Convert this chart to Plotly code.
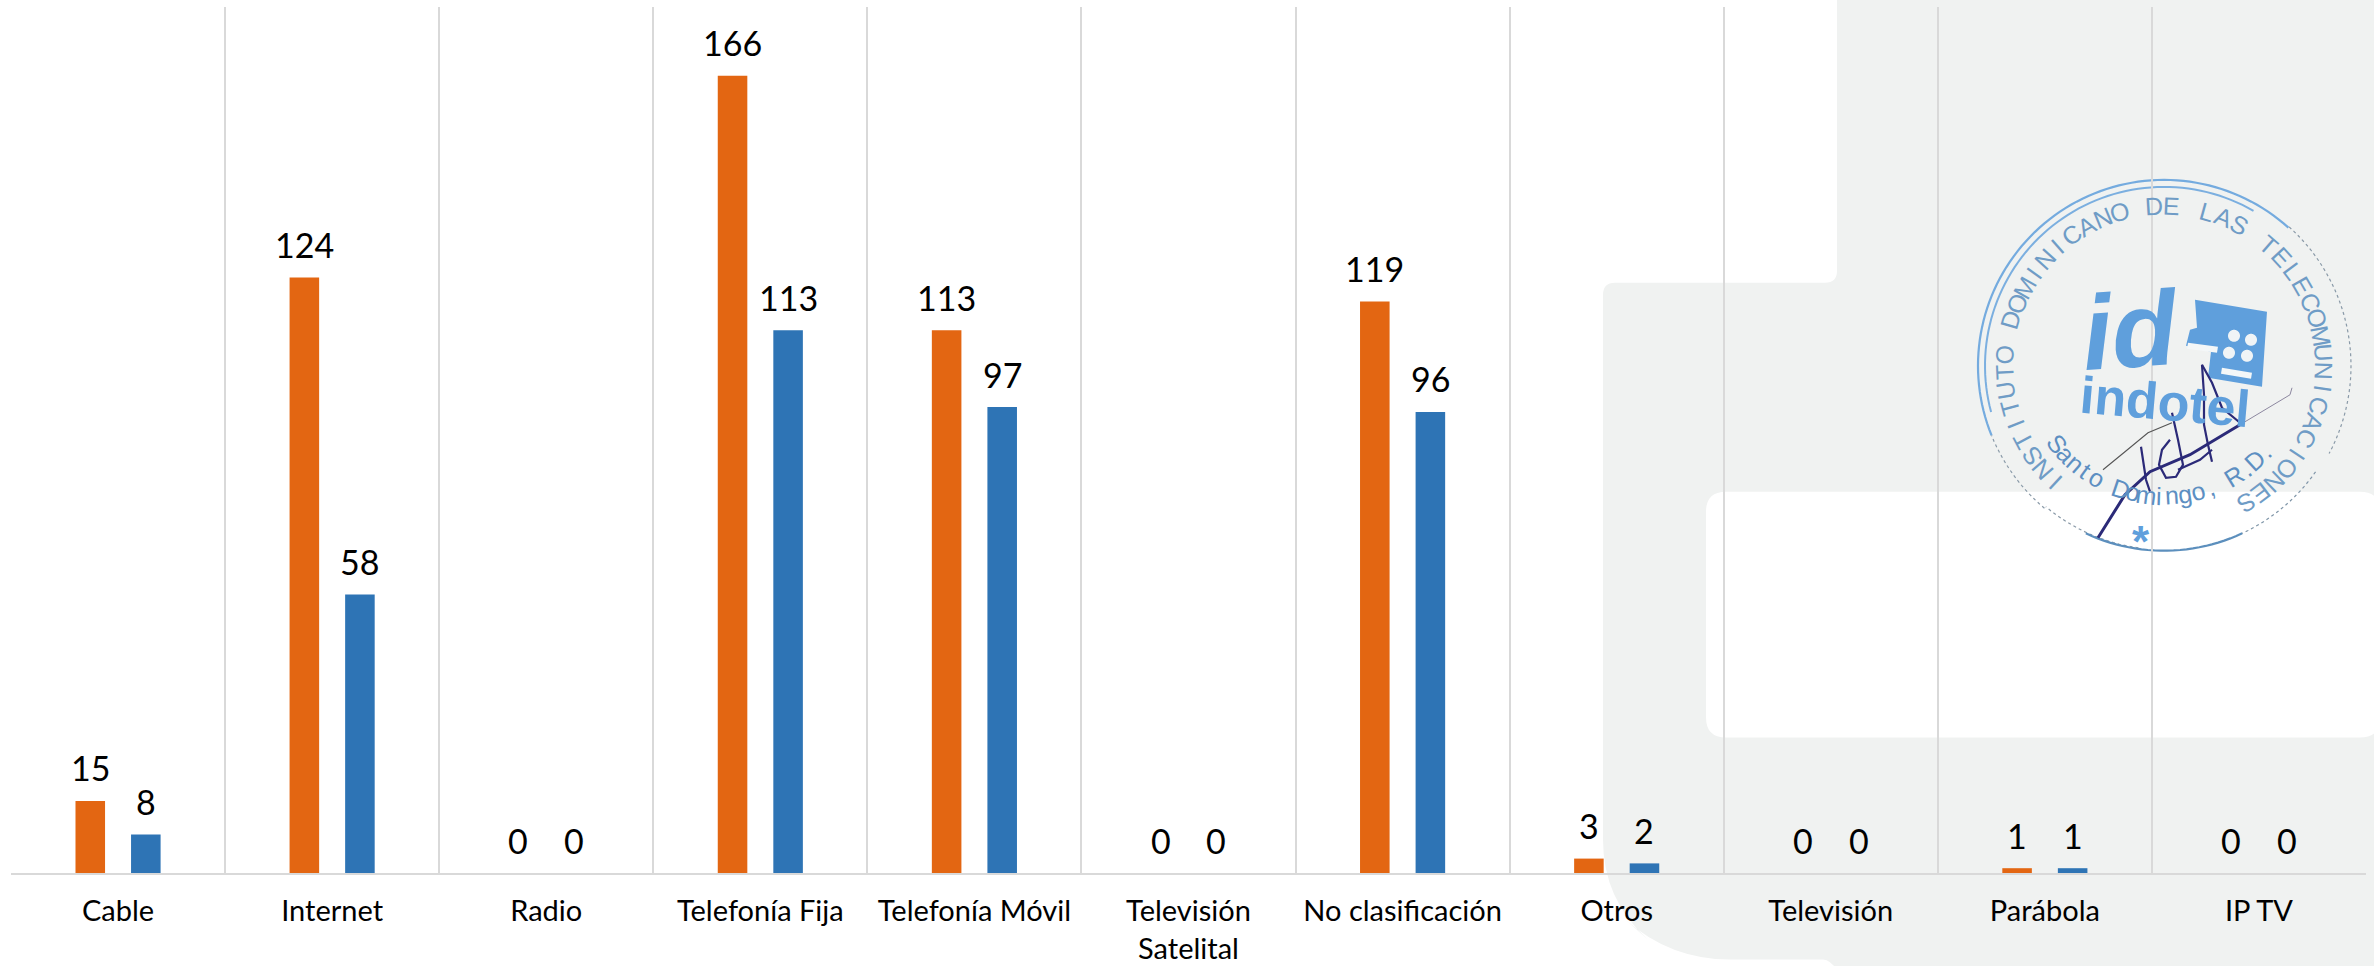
import math
import plotly.graph_objects as go

categories = ["Cable", "Internet", "Radio", "Telefonía Fija", "Telefonía Móvil",
              "Televisión<br>Satelital", "No clasificación", "Otros", "Televisión",
              "Parábola", "IP TV"]
orange_values = [15, 124, 0, 166, 113, 0, 119, 3, 0, 1, 0]
blue_values = [8, 58, 0, 113, 97, 0, 96, 2, 0, 1, 0]

W, H = 2374, 966
L, R, T, B = 11, 2366, 7, 873.5
FONT = "Lato"
ORANGE, BLUE, GRAY = "#e36612", "#2e74b5", "#f0f2f1"
STAMP = "#5f9fdc"
STAMP_TXT = "#6f9cc6"
INK = "#2b2a78"
CX, CY, RAD = 2164, 366, 186


def px(x):
    return (x - L) / (R - L)


def py(y):
    return (B - y) / (B - T)


def path(points, close=False):
    s = "M " + " L ".join(f"{px(x):.5f},{py(y):.5f}" for x, y in points)
    return s + (" Z" if close else "")


def rounded(pts, r=12):
    """polygon with rounded corners"""
    s = ""
    n = len(pts)
    for i in range(n):
        p0, p1, p2 = pts[i - 1], pts[i], pts[(i + 1) % n]
        rr = r if len(p1) == 2 else p1[2]
        d0 = math.dist(p0[:2], p1[:2])
        d2 = math.dist(p2[:2], p1[:2])
        a = (p1[0] + (p0[0] - p1[0]) * rr / d0, p1[1] + (p0[1] - p1[1]) * rr / d0)
        b = (p1[0] + (p2[0] - p1[0]) * rr / d2, p1[1] + (p2[1] - p1[1]) * rr / d2)
        s += ("M " if i == 0 else " L ") + f"{px(a[0]):.5f},{py(a[1]):.5f}"
        s += f" Q {px(p1[0]):.5f},{py(p1[1]):.5f} {px(b[0]):.5f},{py(b[1]):.5f}"
    return s + " Z"


def arc(a0, a1, r=RAD, cx=CX, cy=CY):
    pts = []
    steps = max(4, int(abs(a1 - a0) / 2))
    for i in range(steps + 1):
        a = math.radians(a0 + (a1 - a0) * i / steps)
        pts.append((cx + r * math.sin(a), cy - r * math.cos(a)))
    return pts


shapes = []


def add(points_or_path, color=None, width=1, fill=None, layer="below", dash=None, opacity=1):
    d = points_or_path if isinstance(points_or_path, str) else path(points_or_path)
    line = dict(color=color or "rgba(0,0,0,0)", width=width if color else 0)
    if dash:
        line["dash"] = dash
    sh = dict(type="path", xref="paper", yref="paper", path=d, line=line,
              layer=layer, opacity=opacity)
    if fill:
        sh["fillcolor"] = fill
    shapes.append(sh)


# grey page background with rounded cut-outs
add(rounded([(1837, -10, 1), (2380, -10, 1), (2380, 972, 1), (1840, 972, 1), (1827, 960, 4),
             (1670, 960, 60), (1603, 900, 60), (1603, 283), (1837, 283)]), fill=GRAY)
add(rounded([(1706, 492, 20), (2380, 492, 20), (2380, 738, 20), (1706, 738, 20)]), fill="#ffffff")

# stamp rings
add(arc(-112, 42), STAMP, 2.2, opacity=.85)
add(arc(-105, 30, RAD - 7), STAMP, 2, opacity=.8)
add(arc(42, 118, RAD + 1), "#8a9aa8", 1.2, dash="dot")
add(arc(-140, -112, RAD), "#8a9aa8", 1.2, dash="dot")
add(arc(-172, -140, RAD - 2), "#8a9aa8", 1.2, dash="dot")
add(arc(155, 205, RAD - 1), "#5c8fbd", 2.2)
add(arc(125, 155, RAD - 1), "#7f95a8", 1.2, dash="dot")

# stamp keypad
add(path([(2195, 300), (2267, 312), (2262, 387), (2208, 378), (2211, 352), (2186, 346),
          (2190, 330), (2197, 328)], True), fill=STAMP)
add(path([(2188, 343), (2218, 347), (2217, 353), (2187, 349)], True), fill="#f4f7f8")
add(path([(2222, 368), (2252, 373), (2251, 379), (2221, 374)], True), fill="#f4f7f8")
for kx, ky in [(2234, 336), (2251, 340), (2229, 353), (2247, 356)]:
    add(path(arc(0, 360, 6, kx, ky), True), fill="#f0f4f6")

# signature
add([(2098, 538), (2125, 495), (2150, 472), (2190, 455), (2240, 425)], INK, 3, layer="above")
add([(2240, 425), (2290, 395), (2292, 388)], "#8d88a0", 1, layer="above")
add([(2103, 470), (2125, 452), (2148, 433), (2172, 423)], "#555", 1.1, layer="above")
add([(2172, 413), (2178, 440), (2183, 465), (2176, 477), (2166, 478), (2159, 465), (2162, 450), (2170, 440)],
    INK, 2.2, layer="above")
add([(2141, 447), (2146, 480), (2150, 492)], INK, 2.2, layer="above")
add([(2202, 365), (2204, 395), (2204, 425), (2208, 445), (2212, 462)], INK, 2.2, layer="above")
add([(2202, 365), (2212, 383), (2222, 408), (2240, 423)], INK, 2.2, layer="above")
add([(2178, 470), (2200, 460), (2212, 450)], INK, 2.2, layer="above")

annotations = []


def label(x, y, text, size, color, angle=0, bold=False, italic=False, font="Liberation Sans"):
    t = f"<b>{text}</b>" if bold else text
    t = f"<i>{t}</i>" if italic else t
    annotations.append(dict(x=px(x), y=py(y), xref="paper", yref="paper", text=t, showarrow=False,
                            xanchor="center", yanchor="middle", textangle=angle,
                            font=dict(family=font, size=size, color=color)))


ring_text = "INSTITUTO DOMINICANO DE LAS TELECOMUNICACIONES"
a0, a1 = -137, 149
for i, ch in enumerate(ring_text):
    if ch == " ":
        continue
    a = a0 + (a1 - a0) * i / (len(ring_text) - 1)
    r = math.radians(a)
    label(CX + 160 * math.sin(r), CY - 160 * math.cos(r), ch, 25, STAMP_TXT, angle=a)

low_text = "Santo Domingo, R.D."
for i, ch in enumerate(low_text):
    if ch == " ":
        continue
    a = -52 + 100 * i / (len(low_text) - 1)
    r = math.radians(a)
    label(CX + 135 * math.sin(r), CY - 5 + 135 * math.cos(r), ch, 25, "#5d8fc2", angle=-a)

label(2130, 330, "id", 106, STAMP, bold=True, italic=True, angle=-4)
label(2165, 402, "indotel", 52, STAMP, bold=True, angle=5)
label(2141, 542, "*", 44, STAMP, bold=True)

# value labels: tied to the data through the axes, lifted above the bars
for values, shift in ((orange_values, -27.75), (blue_values, 27.75)):
    for c, v in zip(categories, values):
        annotations.append(dict(x=c, y=v, xref="x", yref="y", text=str(v), showarrow=False,
                                xshift=shift, yshift=33, xanchor="center", yanchor="middle",
                                font=dict(family=FONT, size=34, color="#000000")))

common = dict(x=categories, cliponaxis=False, hoverinfo="skip")
fig = go.Figure()
fig.add_bar(y=orange_values, marker=dict(color=ORANGE, line_width=0), **common)
fig.add_bar(y=blue_values, marker=dict(color=BLUE, line_width=0), **common)

fig.update_layout(
    width=W, height=H, autosize=False,
    margin=dict(l=L, r=W - R, t=T, b=H - B, pad=0, autoexpand=False),
    paper_bgcolor="#ffffff", plot_bgcolor="rgba(0,0,0,0)",
    barmode="group", bargap=0.481, bargroupgap=0.468, showlegend=False,
    shapes=shapes, annotations=annotations,
    font=dict(family=FONT),
)
fig.update_xaxes(type="category", tickson="boundaries", range=[-0.5, 10.5], showgrid=True,
                 gridcolor="#d9d9d9", gridwidth=2, showline=True, linecolor="#d9d9d9", linewidth=2,
                 ticks="", ticklabelstandoff=11, tickangle=0,
                 tickfont=dict(family=FONT, size=29, color="#000000"), automargin=False)
fig.update_yaxes(range=[0, 180.3], showgrid=False, zeroline=False, showticklabels=False, ticks="",
                 automargin=False)

fig.write_html("out.html", config=dict(displayModeBar=False),
               post_script="document.body.style.margin='0';document.documentElement.style.overflow='hidden';")
